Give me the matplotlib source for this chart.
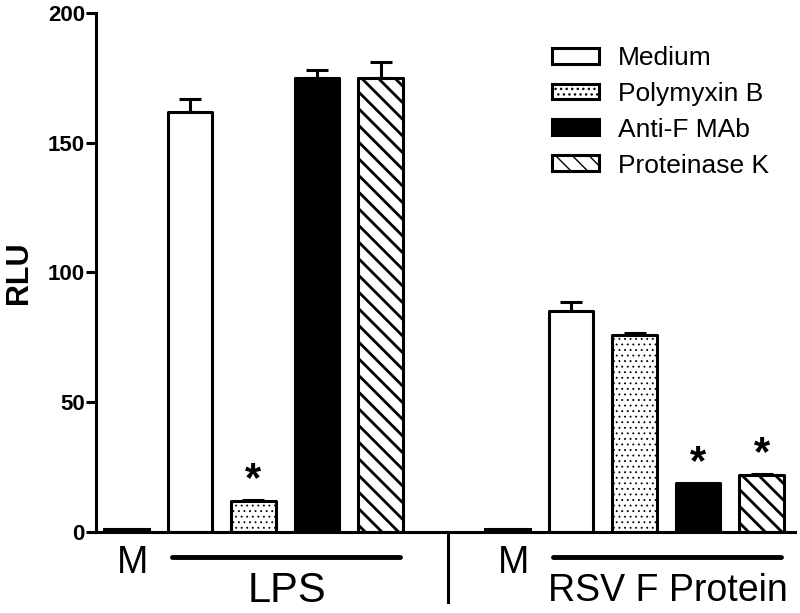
import matplotlib
matplotlib.use("Agg")
import matplotlib.pyplot as plt

plt.rcParams['font.family'] = ['Liberation Sans', 'DejaVu Sans']

treatments = ["Medium", "Polymyxin B", "Anti-F MAb", "Proteinase K"]
groups = ["LPS", "RSV F Protein"]
medium_only = [1, 1]
lps_vals = [162, 12, 175, 175]
lps_err = [5, 0.5, 3, 6]
rsv_vals = [85, 76, 19, 22]
rsv_err = [3.5, 0.5, 0, 0.5]
lps_sig = [False, True, False, False]
rsv_sig = [False, False, True, True]

styles = [
    dict(color="white", hatch=None, hlw=1.0),
    dict(color="white", hatch="...", hlw=0.6),
    dict(color="black", hatch=None, hlw=1.0),
    dict(color="white", hatch="\\\\", hlw=2.0),
]

fig = plt.figure(figsize=(8, 6.13), dpi=100)
ax = fig.add_axes([0.12, 0.132, 0.874, 0.847])

w = 0.7
lw = 2.2
handles = []
for g, (vals, errs, sig) in enumerate([(lps_vals, lps_err, lps_sig), (rsv_vals, rsv_err, rsv_sig)]):
    start = g * 6
    # medium-only control bar
    ax.bar(start, medium_only[g], width=w, color="black", edgecolor="black", linewidth=lw)
    for i in range(4):
        x = start + 1 + i
        with plt.rc_context({'hatch.linewidth': styles[i]["hlw"]}):
            b = ax.bar(x, vals[i], width=w, color=styles[i]["color"], hatch=styles[i]["hatch"],
                       edgecolor="black", linewidth=lw, joinstyle="round", zorder=2)
        for p in b.patches:
            if hasattr(p, "set_hatch_linewidth"):
                p.set_hatch_linewidth(styles[i]["hlw"])
        if g == 0:
            handles.append(b)
        if errs[i] > 0:
            ax.errorbar(x, vals[i], yerr=[[0], [errs[i]]], fmt="none", ecolor="black",
                        elinewidth=lw, capsize=8, capthick=lw, zorder=1)
        if sig[i]:
            ax.text(x, vals[i] + errs[i], "*", ha="center", va="bottom",
                    fontsize=30, fontweight="bold")

ax.set_xlim(-0.48, 10.53)
ax.set_ylim(0, 200)
ax.set_yticks([0, 50, 100, 150, 200])
ax.set_xticks([])
ax.spines["top"].set_visible(False)
ax.spines["right"].set_visible(False)
ax.spines["left"].set_linewidth(lw)
ax.spines["bottom"].set_linewidth(lw)
ax.tick_params(axis="y", width=lw, length=7, labelsize=16, pad=1)
for t in ax.get_yticklabels():
    t.set_fontweight("bold")
ax.set_ylabel("RLU", fontsize=22, fontweight="bold", labelpad=10)

# group annotations under the axis
for g, name in enumerate(groups):
    start = g * 6
    ax.text(start + 0.09, -12, "M", ha="center", va="center", fontsize=27, clip_on=False)
    ax.plot([start + 0.72, start + 4.31], [-9.6, -9.6], color="black", lw=3.5,
            solid_capstyle="round", clip_on=False)
    ax.text(start + 2.53, -22.6, name, ha="center", va="center",
            fontsize=30 if g == 0 else 27, clip_on=False)
ax.plot([5.06, 5.06], [0, -27], color="black", lw=lw, clip_on=False)

ax.legend(handles, treatments, loc="upper left", bbox_to_anchor=(0.618, 0.982),
          frameon=False, fontsize=19, handlelength=1.8, handleheight=0.55,
          labelspacing=0.45, handletextpad=0.72)

fig.savefig("out.png", dpi=100)
